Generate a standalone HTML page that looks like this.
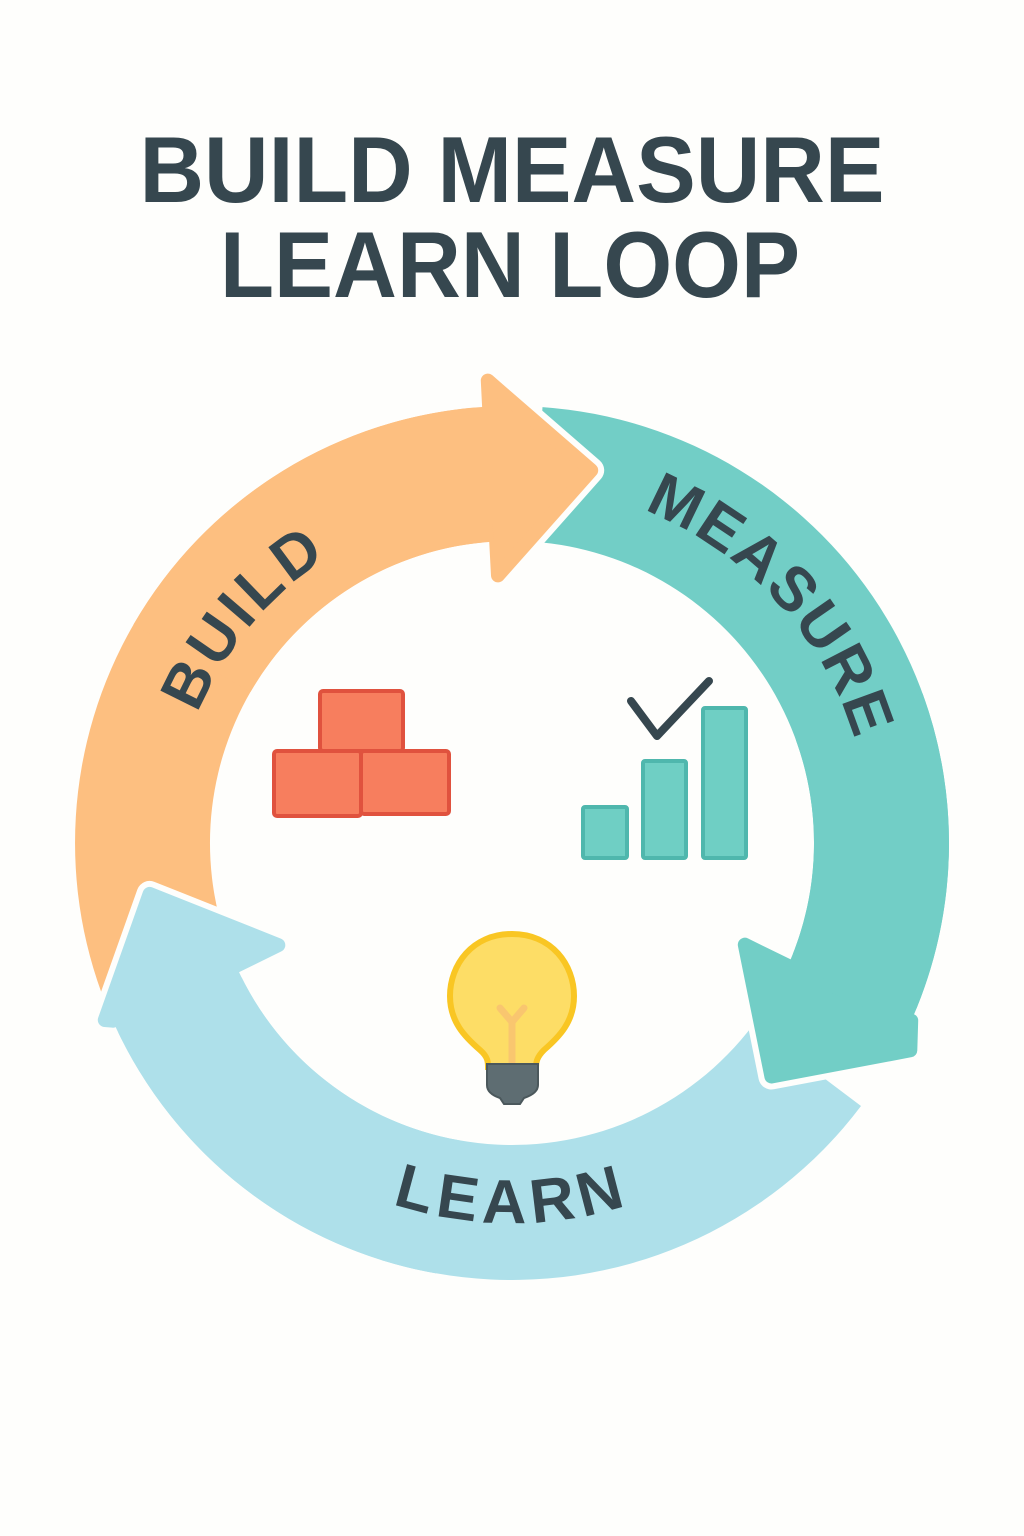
<!DOCTYPE html>
<html><head><meta charset="utf-8"><style>
html,body{margin:0;padding:0;background:#fefefc;}
svg{display:block}
</style></head><body>
<svg id="s" width="1024" height="1536" viewBox="0 0 1024 1536" xmlns="http://www.w3.org/2000/svg">
<rect width="1024" height="1536" fill="#fefefc"/>
<text x="512" y="202" text-anchor="middle" font-family="Liberation Sans, sans-serif" font-weight="bold" font-size="94" fill="#36474f" textLength="745" lengthAdjust="spacingAndGlyphs">BUILD MEASURE</text>
<text x="510" y="297" text-anchor="middle" font-family="Liberation Sans, sans-serif" font-weight="bold" font-size="94" fill="#36474f" textLength="580" lengthAdjust="spacingAndGlyphs">LEARN LOOP</text>
<g id="arrows"></g>
<defs>
<path id="pb" d="M 183.6 755 A 340 340 0 0 1 368.3 534.9"/>
<path id="pm" d="M 604.7 497.2 A 358 358 0 0 1 864.6 780.8"/>
<path id="pl" d="M 294 1154.3 A 380 380 0 0 0 730 1154.3"/>
</defs>
<g font-family="Liberation Sans, sans-serif" font-weight="bold" fill="#36474f">
<text font-size="62" letter-spacing="4"><textPath href="#pb" startOffset="50%" text-anchor="middle">BUILD</textPath></text>
<text font-size="62" letter-spacing="2"><textPath href="#pm" startOffset="50%" text-anchor="middle">MEASURE</textPath></text>
<text font-size="62" letter-spacing="6"><textPath href="#pl" startOffset="50%" text-anchor="middle">LEARN</textPath></text>
</g>
<!-- bricks -->
<g fill="#f77e5e" stroke="#e0523e" stroke-width="4" stroke-linejoin="round">
<rect x="320" y="691" width="83" height="60" rx="3"/>
<rect x="274" y="751" width="87" height="65" rx="3"/>
<rect x="361" y="751" width="88" height="63" rx="3"/>
</g>
<!-- bars -->
<g fill="#6fcfc4" stroke="#4fb7ad" stroke-width="4">
<rect x="583" y="807" width="44" height="51" rx="2"/>
<rect x="643" y="761" width="43" height="97" rx="2"/>
<rect x="703" y="708" width="43" height="150" rx="2"/>
</g>
<polyline points="631,701 657,736 709,681" fill="none" stroke="#36474f" stroke-width="8" stroke-linecap="round" stroke-linejoin="round"/>
<!-- bulb -->
<path d="M 512 934 C 472 934 450 965 450 996 C 450 1022 465 1037 480 1050 C 488 1057 488 1062 488 1067 L 536 1067 C 536 1062 537 1057 544 1050 C 559 1037 574 1022 574 996 C 574 965 552 934 512 934 Z" fill="#fddd66" stroke="#f9c623" stroke-width="6"/>
<path d="M 500 1008 L 512 1022 L 524 1008 M 512 1022 L 512 1062" fill="none" stroke="#f9c66f" stroke-width="7" stroke-linecap="round"/>
<path d="M 487 1064 L 538 1064 L 538 1085 C 538 1092 530 1096 524 1098 L 520 1104 L 504 1104 L 500 1098 C 494 1096 487 1092 487 1085 Z" fill="#5e6d72" stroke="#4b585c" stroke-width="2"/>
</svg>
<script>
(function(){
var cx=512,cy=843,ri=302,ro=437;
function P(th,r){var a=th*Math.PI/180;return [cx+r*Math.sin(a),cy-r*Math.cos(a)];}
function f(p){return p[0].toFixed(1)+' '+p[1].toFixed(1);}
function body(t1,t2){
 var a=P(t1,ro),b=P(t2,ro),c=P(t2,ri),d=P(t1,ri);
 var large=(t2-t1)>180?1:0;
 return 'M '+f(a)+' A '+ro+' '+ro+' 0 '+large+' 1 '+f(b)+' L '+f(c)+' A '+ri+' '+ri+' 0 '+large+' 0 '+f(d)+' Z';
}
function head(tb,ti,to,rin,rout,tt,rt){
 return 'M '+f(P(tb,ri))+' L '+f(P(ti,rin))+' L '+f(P(tt,rt))+' L '+f(P(to,rout))+' L '+f(P(tb,ro))+' Z';
}
var g=document.getElementById('arrows'),ns='http://www.w3.org/2000/svg';
function add(d,fill,stroke,sw){var p=document.createElementNS(ns,'path');p.setAttribute('d',d);p.setAttribute('fill',fill);
 if(stroke){p.setAttribute('stroke',stroke);p.setAttribute('stroke-width',sw);p.setAttribute('stroke-linejoin','round');}
 g.appendChild(p);}
var O='#fdbf80',T='#72cec6',B='#aee0ea',W='#fefefc';
add(body(-110,-3),O);
add(body(4,114),T);
add(body(127,246),B);
var ho=head(-3,-3,-3,268,463,12,381);
var ht=head(114,113.6,117.5,254,449,132,349);
var hb=head(246,246.4,246.5,255,444,262,366);
[[ho,O],[ht,T],[hb,B]].forEach(function(h){
 add(h[0],W,W,26);
 add(h[0],h[1],h[1],14);
});
add(body(-60,-3.5),O);
add(body(70,113.5),T);
add(body(190,245.5),B);
})();
</script>
</body></html>
